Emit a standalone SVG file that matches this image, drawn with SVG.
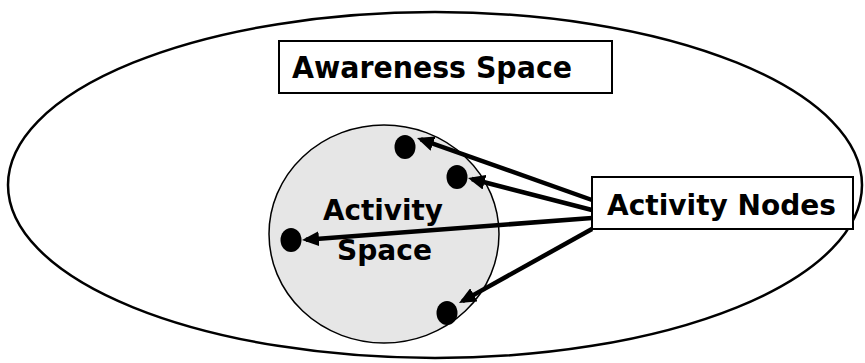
<svg xmlns="http://www.w3.org/2000/svg" width="865" height="363" viewBox="0 0 865 363">
<style>
.lbl{font-family:"DejaVu Sans","Liberation Sans",sans-serif;font-weight:bold;fill:#000}
.box{fill:#fff;stroke:#000;stroke-width:2}
.dot{fill:#000}
.conn{stroke:#000;stroke-width:4.5;fill:none;marker-end:url(#ah)}
</style>
<defs>
<marker id="ah" markerUnits="userSpaceOnUse" markerWidth="17" markerHeight="15" refX="13" refY="7.5" orient="auto">
<path d="M0,0 L17,7.5 L0,15 Z" fill="#000"/>
</marker>
</defs>
<g id="awareness-space">
<ellipse cx="435" cy="185" rx="427" ry="173" fill="#fff" stroke="#000" stroke-width="2.5"/>
<rect class="box" x="279" y="41" width="333" height="52"/>
<text class="lbl" x="292" y="77.5" font-size="30" textLength="280" lengthAdjust="spacingAndGlyphs">Awareness Space</text>
</g>
<g id="activity-space">
<ellipse cx="384" cy="234" rx="115" ry="109" fill="#e6e6e6" stroke="#000" stroke-width="1.5"/>
<text class="lbl" x="323" y="220" font-size="29" textLength="120" lengthAdjust="spacingAndGlyphs">Activity</text>
<text class="lbl" x="337" y="260" font-size="29" textLength="95" lengthAdjust="spacingAndGlyphs">Space</text>
</g>
<g id="node-1"><ellipse class="dot" cx="405" cy="147" rx="10.5" ry="12"/></g>
<g id="node-2"><ellipse class="dot" cx="457" cy="177" rx="10.5" ry="12"/></g>
<g id="node-3"><ellipse class="dot" cx="291" cy="240" rx="10.5" ry="12"/></g>
<g id="node-4"><ellipse class="dot" cx="447" cy="313" rx="10.5" ry="12"/></g>
<g id="connectors">
<line class="conn" x1="592" y1="200" x2="420.8" y2="139.3"/>
<line class="conn" x1="592" y1="210" x2="471.9" y2="179"/>
<line class="conn" x1="592" y1="218" x2="306" y2="239.7"/>
<line class="conn" x1="592" y1="229" x2="462.5" y2="301.1"/>
</g>
<g id="activity-nodes">
<rect class="box" x="592" y="177" width="261" height="52"/>
<text class="lbl" x="607" y="215" font-size="29" textLength="229" lengthAdjust="spacingAndGlyphs">Activity Nodes</text>
</g>
</svg>
